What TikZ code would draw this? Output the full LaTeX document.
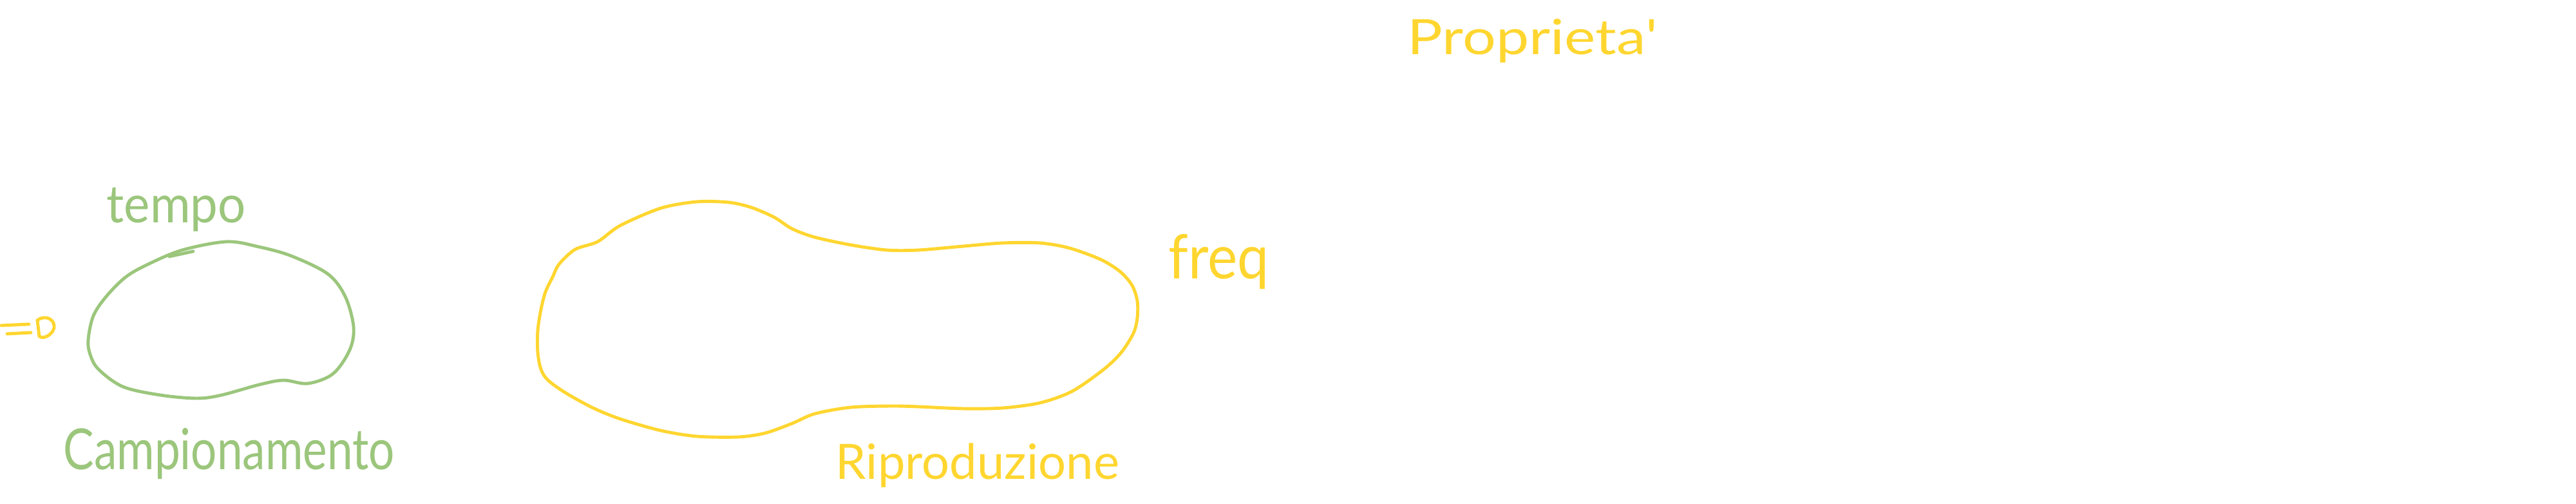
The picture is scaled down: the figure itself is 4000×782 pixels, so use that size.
\documentclass[tikz,border=0pt]{standalone}
\usepackage{fontspec}
\setmainfont{Lato}
\usepackage{graphicx}
\definecolor{hgreen}{HTML}{9BC67C}
\definecolor{hyellow}{HTML}{FFD630}
\newcommand{\fitw}[3]{{\fontsize{#1}{#1}\selectfont\resizebox{#2}{\height}{#3}}}
\begin{document}
\begin{tikzpicture}[x=0.01cm,y=-0.01cm,line cap=round,line join=round,
  gline/.style={draw=hgreen,line width=1.4pt},
  yline/.style={draw=hyellow,line width=1.4pt},
  lbl/.style={inner sep=0pt,anchor=base west}]
\useasboundingbox (0,0) rectangle (4000,782);

% texts
\node[lbl,text=hgreen] (tempo) at (165,345) {\fitw{23pt}{2.16cm}{tempo}};
\node[lbl,text=hgreen] (camp) at (98,728) {\fitw{25pt}{5.14cm}{Campionamento}};
\node[lbl,text=hyellow] (freq) at (1814,432) {\fitw{27pt}{1.56cm}{freq}};
\node[lbl,text=hyellow] (ripro) at (1297,743) {\fitw{21.5pt}{4.4cm}{Riproduzione}};
\node[lbl,text=hyellow] (prop) at (2185,85) {\fitw{21.5pt}{3.88cm}{Proprieta{\addfontfeatures{Ligatures=TeXOff}'}}};

% green blob
\draw[gline] plot[smooth cycle,tension=0.55] coordinates {
 (352,375) (402,383) (452,397) (509,425) (536,460) (549,507) (543,543)
 (517,580) (478,595) (440,590) (402,597) (344,613) (306,618) (249,613)
 (191,600) (153,573) (140,550) (137,527) (145,490) (165,460) (195,430)
 (230,410) (283,388)};
\draw[gline] (263,398) -- (300,390);

% yellow blob
\draw[yline] plot[smooth cycle,tension=0.5] coordinates {
 (928,375) (963,350) (1026,323) (1082,313) (1132,314) (1167,322) (1202,337)
 (1230,355) (1265,368) (1321,380) (1377,388) (1426,388) (1496,382) (1557,377)
 (1615,377) (1661,385) (1710,403) (1740,422) (1758,443) (1766,467) (1766,493)
 (1760,517) (1741,547) (1714,573) (1665,607) (1615,625) (1557,633) (1496,634)
 (1426,631) (1384,630) (1321,632) (1265,642) (1230,657) (1188,672) (1146,678)
 (1082,677) (1026,668) (963,650) (921,633) (879,610) (851,590) (840,573)
 (835,547) (835,513) (840,480) (847,453) (858,430) (868,410) (893,387)};

% arrow-like "=D" mark at left edge
\draw[yline] (2,505) -- (45,503);
\draw[yline] (11,518) -- (48,516);
\draw[yline] (58,497) -- (61,522) .. controls (70,528) and (86,515) .. (84,505)
  .. controls (83,495) and (70,488) .. (58,497);
\end{tikzpicture}
\end{document}
